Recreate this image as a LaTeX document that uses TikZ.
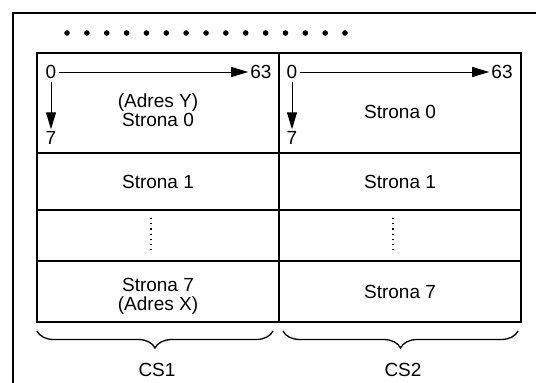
\documentclass[tikz,border=0pt]{standalone}
\usepackage{fontspec}
\setmainfont{Liberation Sans}
\usetikzlibrary{arrows.meta,decorations.pathreplacing}
\begin{document}
\begin{tikzpicture}[x=1pt,y=-1pt,
  font=\fontsize{19}{19}\selectfont,
  lbl/.style={inner sep=0pt, anchor=center},
  txt/.style={inner sep=0pt, align=center, anchor=center},
  arr/.style={line width=1pt, -{Triangle[length=17pt,width=10pt]}, shorten >=2pt, shorten <=3pt},
  thickline/.style={line width=2.2pt},
  rowline/.style={line width=1.2pt},
  brc/.style={line width=1.3pt, decorate, decoration={brace, mirror, amplitude=17pt, aspect=0.5}}]
\useasboundingbox (0,0) rectangle (536,383);
% outer frame
\draw[line width=1.5pt] (13,383) -- (13,13) -- (536,13);
% dots
\foreach \i in {0,...,14} \fill (67+\i*19.86,33) circle (2.8pt);
% table
\draw[rowline] (37,153) -- (521,153);
\draw[rowline] (37,210) -- (521,210);
\draw[rowline] (37,261) -- (521,261);
\draw[line width=1.8pt] (279,53) -- (279,322);
\draw[thickline] (37,53) rectangle (521,322);
% left column labels
\node[lbl] (zl) at (51,72) {0};
\node[lbl] (sl) at (261,72) {63};
\node[lbl] (nl) at (51,138) {7};
\draw[arr] (zl.east) -- (sl.west);
\draw[arr] (zl.south) -- (nl.north);
% right column labels
\node[lbl] (zr) at (292,72) {0};
\node[lbl] (sr) at (502,72) {63};
\node[lbl] (nr) at (292,138) {7};
\draw[arr] (zr.east) -- (sr.west);
\draw[arr] (zr.south) -- (nr.north);
% texts
\node[txt] (l0) at (158,110) {(Adres Y)\\Strona 0};
\node[txt] (r0) at (400,112) {Strona 0};
\node[txt] (l1) at (158,182) {Strona 1};
\node[txt] (r1) at (400,182) {Strona 1};
\node[txt] (l7) at (158,296) {Strona 7\\(Adres X)};
\node[txt] (r7) at (400,292) {Strona 7};
\draw[line width=1.2pt, dash pattern=on 1.2pt off 4pt] (151,218) -- (151,253);
\draw[line width=1.2pt, dash pattern=on 1.2pt off 4pt] (393,218) -- (393,253);
% braces
\coordinate (b1a) at (37,331);
\coordinate (b1b) at (273,331);
\coordinate (b2a) at (283,331);
\coordinate (b2b) at (518,331);
\draw[brc] (b1a) -- (b1b);
\draw[brc] (b2a) -- (b2b);
\node[lbl] (cs1) at (157,370) {CS1};
\node[lbl] (cs2) at (403,370) {CS2};
\end{tikzpicture}
\end{document}
